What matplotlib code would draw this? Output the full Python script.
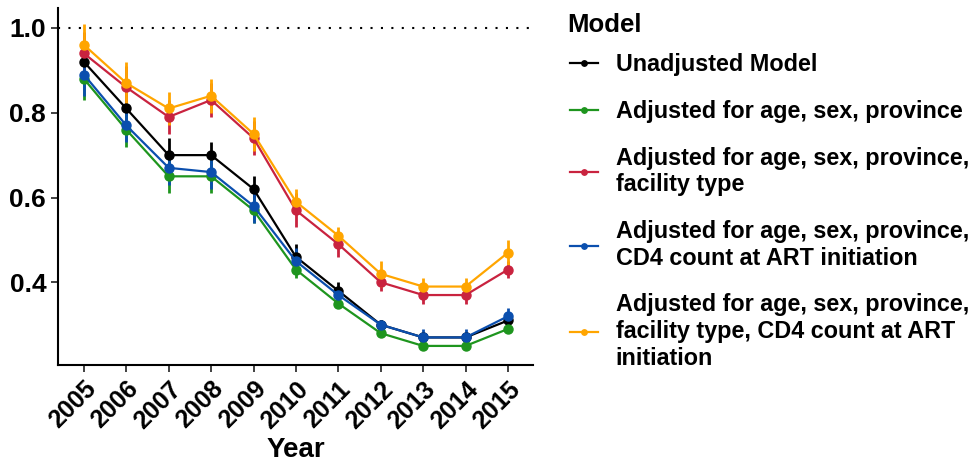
import numpy as np
import matplotlib.pyplot as plt

plt.rcParams['font.family'] = ['Liberation Sans', 'DejaVu Sans']
plt.rcParams['font.weight'] = 'bold'

years = np.arange(2005, 2016)

labels = [
    "Unadjusted Model",
    "Adjusted for age, sex, province",
    "Adjusted for age, sex, province,\nfacility type",
    "Adjusted for age, sex, province,\nCD4 count at ART initiation",
    "Adjusted for age, sex, province,\nfacility type, CD4 count at ART\ninitiation",
]
colors = ["#000000", "#1e951e", "#c9233f", "#0b4fae", "#ffa500"]

unadj = [0.92, 0.81, 0.70, 0.70, 0.62, 0.46, 0.38, 0.30, 0.27, 0.27, 0.31]
adj_basic = [0.88, 0.76, 0.65, 0.65, 0.57, 0.43, 0.35, 0.28, 0.25, 0.25, 0.29]
adj_fac = [0.94, 0.86, 0.79, 0.83, 0.74, 0.57, 0.49, 0.40, 0.37, 0.37, 0.43]
adj_cd4 = [0.89, 0.77, 0.67, 0.66, 0.58, 0.45, 0.37, 0.30, 0.27, 0.27, 0.32]
adj_all = [0.96, 0.87, 0.81, 0.84, 0.75, 0.59, 0.51, 0.42, 0.39, 0.39, 0.47]

# half-width of the confidence intervals
ci_unadj = [0.05, 0.05, 0.04, 0.03, 0.03, 0.03, 0.02, 0.01, 0.01, 0.01, 0.01]
ci_basic = [0.05, 0.04, 0.04, 0.04, 0.03, 0.02, 0.01, 0.01, 0.01, 0.01, 0.01]
ci_fac = [0.05, 0.05, 0.04, 0.04, 0.04, 0.04, 0.03, 0.02, 0.02, 0.02, 0.02]
ci_cd4 = [0.05, 0.04, 0.04, 0.04, 0.04, 0.03, 0.02, 0.01, 0.02, 0.02, 0.02]
ci_all = [0.05, 0.05, 0.04, 0.04, 0.04, 0.03, 0.02, 0.03, 0.02, 0.02, 0.03]

series = [unadj, adj_basic, adj_fac, adj_cd4, adj_all]
cis = [ci_unadj, ci_basic, ci_fac, ci_cd4, ci_all]

fig = plt.figure(figsize=(9.73, 4.67), dpi=100)
ax = fig.add_axes([58/973, 1 - 365/467, 475/973, 357/467])

ax.axhline(1.0, color="black", linestyle=(0, (1, 4)), linewidth=1.5, zorder=1)

for vals, ci, col, lab in zip(series, cis, colors, labels):
    vals = np.array(vals)
    ci = np.array(ci)
    ax.vlines(years, vals - ci, vals + ci, color=col, linewidth=2, zorder=2)
    ax.plot(years, vals, color=col, linewidth=1.6, marker="o", markersize=6.5,
            label=lab, zorder=3)

ax.set_xlim(2004.39, 2015.59)
ax.set_ylim(0.205, 1.047)
ax.set_xticks(years)
ax.set_xticklabels([str(y) for y in years], rotation=45, ha="right",
                   rotation_mode="anchor", fontsize=18, fontweight="bold")
ax.set_yticks([0.4, 0.6, 0.8, 1.0])
ax.set_yticklabels(["0.4", "0.6", "0.8", "1.0"], fontsize=19, fontweight="bold")
ax.tick_params(axis="both", length=5, width=1.3, color="#333333")
ax.set_xlabel("Year", fontsize=20, fontweight="bold", labelpad=3)
for s in ["top", "right"]:
    ax.spines[s].set_visible(False)
for s in ["left", "bottom"]:
    ax.spines[s].set_linewidth(1.5)

# legend title drawn separately so its gap to the entries can be set
fig.text(567/973, 1 - 25/467, "Model", fontsize=18.5, fontweight="bold",
         va="center", ha="left")
leg = fig.legend(*ax.get_legend_handles_labels(), loc="upper left",
                 bbox_to_anchor=(570/973, 1 - 53/467), frameon=False,
                 fontsize=16.8, borderpad=0, borderaxespad=0,
                 handlelength=1.2, handletextpad=0.75, labelspacing=1.02,
                 markerscale=0.6)
for t in leg.get_texts():
    t.set_fontweight("bold")
    t.set_linespacing(1.2)

fig.savefig("out.png", dpi=100)
